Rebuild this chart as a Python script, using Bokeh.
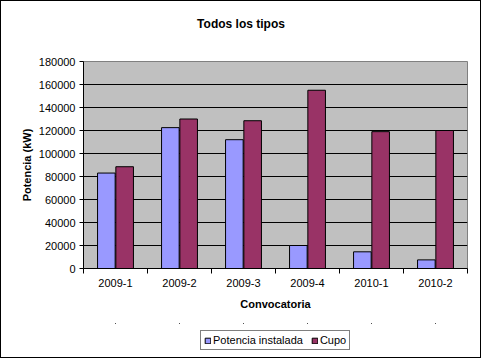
from bokeh.plotting import figure
from bokeh.layouts import column
from bokeh.models import (ColumnDataSource, FixedTicker, Range1d, Legend, LegendItem,
                          NumeralTickFormatter, Label)
from bokeh.transform import dodge
from bokeh.embed import file_html
from bokeh.resources import INLINE

title_text = "Todos los tipos"
categories = ["2009-1", "2009-2", "2009-3", "2009-4", "2010-1", "2010-2"]
potencia_instalada = [83000, 122500, 112000, 20000, 14500, 7500]
cupo = [88500, 130000, 128500, 155000, 119000, 120000]
y_ticks = [0, 20000, 40000, 60000, 80000, 100000, 120000, 140000, 160000, 180000]
series_names = ["Potencia instalada", "Cupo"]
series_fields = ["pot", "cupo"]
series_colors = ["#9999FF", "#993366"]

xpos = [i + 0.5 for i in range(len(categories))]
source = ColumnDataSource(dict(x=xpos, cat=categories, pot=potencia_instalada, cupo=cupo))

FONT = "Liberation Sans"
W = 479
ML, MR = 82, 13

# ---- title strip ----
tt = figure(width=W, height=40, output_backend="svg", toolbar_location=None,
            x_range=Range1d(0, W - ML - MR), y_range=Range1d(0, 40),
            x_axis_type=None, y_axis_type=None,
            min_border_left=ML, min_border_right=MR, min_border_top=0, min_border_bottom=0)
tt.outline_line_color = None
tt.background_fill_color = "white"
tt.border_fill_color = "white"
tt.grid.visible = False
tt.add_layout(Label(x=W / 2 - ML, y=18, text=title_text, text_align="center",
                    text_baseline="middle", text_font=FONT, text_font_size="12px",
                    text_font_style="bold", text_color="black"))

# ---- main chart ----
p = figure(width=W, height=282, output_backend="svg", toolbar_location=None,
           x_range=Range1d(0, len(categories)), y_range=Range1d(0, 180000),
           min_border_left=ML, min_border_right=MR, min_border_top=20, min_border_bottom=55)

p.background_fill_color = "#C0C0C0"
p.border_fill_color = "white"
p.outline_line_color = "#808080"
p.outline_line_width = 1

for field, col, off in zip(series_fields, series_colors, [-0.143, 0.143]):
    p.vbar(x=dodge("x", off, range=p.x_range), top=field, width=0.275, source=source,
           fill_color=col, line_color="black", line_width=1)

# y axis
p.yaxis.ticker = FixedTicker(ticks=y_ticks)
p.yaxis.formatter = NumeralTickFormatter(format="0")
p.yaxis.axis_label = "Potencia (kW)"
p.yaxis.axis_label_text_font = FONT
p.yaxis.axis_label_text_font_size = "11px"
p.yaxis.axis_label_text_font_style = "bold"
p.yaxis.axis_label_text_color = "black"
p.yaxis.axis_label_standoff = 3
p.yaxis.major_label_text_font = FONT
p.yaxis.major_label_text_font_size = "11px"
p.yaxis.major_label_text_color = "black"
p.yaxis.major_tick_out = 4
p.yaxis.major_tick_in = 0
p.yaxis.minor_tick_line_color = None
p.yaxis.axis_line_color = "black"
p.yaxis.major_tick_line_color = "black"
p.yaxis.major_label_standoff = 4

# x axis: labels at centers, ticks at boundaries
p.xaxis.ticker = FixedTicker(ticks=xpos, minor_ticks=list(range(len(categories) + 1)))
p.xaxis.major_label_overrides = {x: c for x, c in zip(xpos, categories)}
p.xaxis.major_tick_line_color = None
p.xaxis.minor_tick_line_color = "black"
p.xaxis.minor_tick_out = 5
p.xaxis.minor_tick_in = 0
p.xaxis.axis_line_color = "black"
p.xaxis.major_label_text_font = FONT
p.xaxis.major_label_text_font_size = "11px"
p.xaxis.major_label_text_color = "black"
p.xaxis.major_label_standoff = 4
p.xaxis.axis_label = "Convocatoria"
p.xaxis.axis_label_text_font = FONT
p.xaxis.axis_label_text_font_size = "11px"
p.xaxis.axis_label_text_font_style = "bold"
p.xaxis.axis_label_text_color = "black"
p.xaxis.axis_label_standoff = 8

p.xgrid.grid_line_color = None
p.ygrid.ticker = FixedTicker(ticks=y_ticks[1:])
p.ygrid.grid_line_color = "black"
p.ygrid.grid_line_width = 1

# ---- legend strip: zero-size proxy bars that only lend their style to the legend ----
lg = figure(width=W, height=34, output_backend="svg", toolbar_location=None,
            x_range=Range1d(0, len(categories)), y_range=Range1d(-400000, -200000),
            x_axis_type=None, y_axis_type=None,
            min_border_left=ML, min_border_right=MR, min_border_top=0, min_border_bottom=0)
lg.outline_line_color = None
lg.background_fill_color = "white"
lg.border_fill_color = "white"
lg.grid.visible = False
items = []
for name, field, col in zip(series_names, series_fields, series_colors):
    r = lg.vbar(x="x", top=field, bottom=field, width=0, source=source,
                fill_color=col, line_color="black", line_width=1)
    items.append(LegendItem(label=name, renderers=[r]))

legend = Legend(items=items, orientation="horizontal", location=(117, 7),
                label_text_font=FONT, label_text_font_size="11px",
                label_text_color="black",
                glyph_width=7, glyph_height=7, label_standoff=2, spacing=8,
                padding=3, margin=0, label_height=12,
                border_line_color="black", border_line_width=1,
                background_fill_color="white", background_fill_alpha=1)
lg.add_layout(legend, "center")

layout = column(tt, p, lg, spacing=0, styles={"border": "1px solid black"})

open("out.html", "w").write(file_html(layout, INLINE))
